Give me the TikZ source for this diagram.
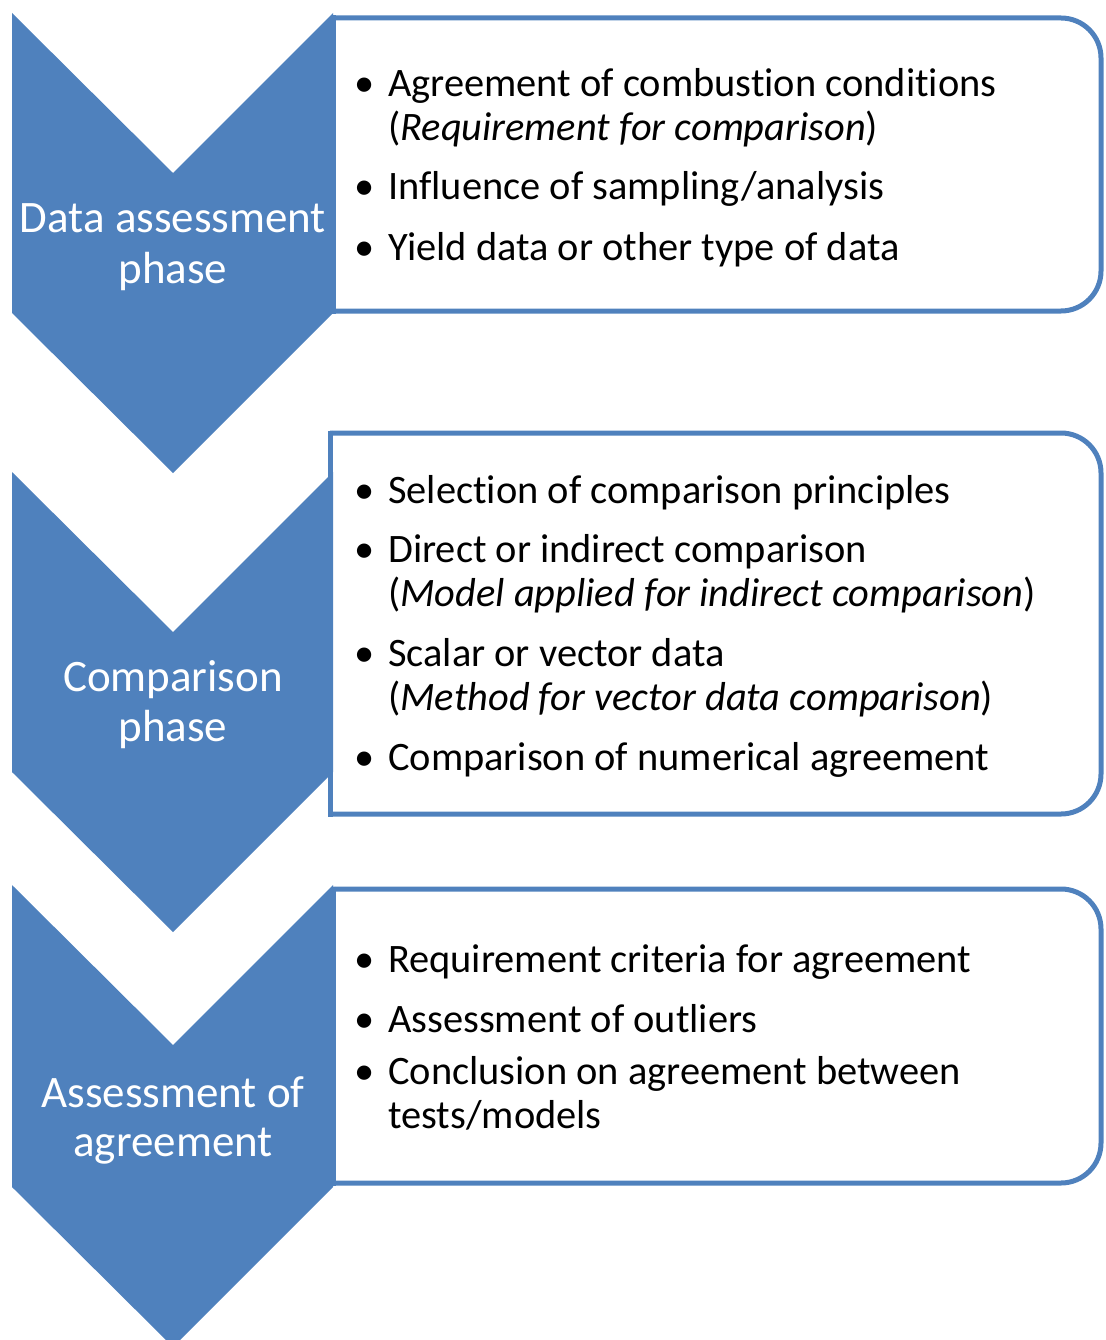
\documentclass[tikz,border=0pt]{standalone}
\usepackage{fontspec}
\setmainfont{Carlito}[Ligatures={NoCommon}]
\definecolor{phaseblue}{HTML}{4F81BD}
\tikzset{
  phase/.style={fill=phaseblue},
  phasetext/.style={text=white, font=\fontsize{45}{50}\selectfont, anchor=base, inner sep=0pt},
  itembox/.style={draw=phaseblue, line width=5pt, rounded corners=40pt},
  boxedge/.style={draw=phaseblue, line width=5pt},
  itemtext/.style={font=\fontsize{40.4}{44}\selectfont, anchor=base west, inner sep=0pt},
}
\newcommand{\bul}{\llap{\textbullet\hspace{14pt}}}

\begin{document}
\begin{tikzpicture}[x=1pt, y=-1pt]
\path[use as bounding box, clip] (0,0) rectangle (1105,1340);
% the three chevrons
\fill[phase] (12,13) -- (173,173) -- (333,13) -- (333,313) -- (173,473) -- (12,313) -- cycle;
\fill[phase] (12,472) -- (173,632) -- (333,472) -- (333,772) -- (173,932) -- (12,772) -- cycle;
\fill[phase] (12,885) -- (173,1045) -- (333,885) -- (333,1187) -- (173,1347) -- (12,1187) -- cycle;
% boxes: square on the left, rounded on the right
\draw[itembox] (333,18) -- (1101,18) -- (1101,311) -- (333,311);
\draw[boxedge] (333,15.5) -- (333,313.5);
\draw[itembox] (330,433) -- (1101,433) -- (1101,814) -- (330,814);
\draw[boxedge] (330,430.5) -- (330,816.5);
\draw[itembox] (333,889) -- (1101,889) -- (1101,1183) -- (333,1183);
\draw[boxedge] (333,886.5) -- (333,1185.5);
% phase names
\node[phasetext] (data1) at (173,233) {Data assessment};
\node[phasetext] (data2) at (173,283) {phase};
\node[phasetext] (comp1) at (173,691) {Comparison};
\node[phasetext] (comp2) at (173,741) {phase};
\node[phasetext] (agree1) at (173,1107) {Assessment of};
\node[phasetext] (agree2) at (173,1156) {agreement};
% data assessment items
\node[itemtext] (conditions) at (388,97) {\bul Agreement of combustion conditions};
\node[itemtext] (requirement) at (388,141) {(\textit{Requirement for comparison})};
\node[itemtext] (sampling) at (388,200) {\bul Influence of sampling/analysis};
\node[itemtext] (yield) at (388,260) {\bul Yield data or other type of data};
% comparison items
\node[itemtext] (principles) at (388,503) {\bul Selection of comparison principles};
\node[itemtext] (direct) at (388,562) {\bul Direct or indirect comparison};
\node[itemtext] (model) at (388,606) {(\textit{Model applied for indirect comparison})};
\node[itemtext] (scalar) at (388,666) {\bul Scalar or vector data};
\node[itemtext] (method) at (388,710) {(\textit{Method for vector data comparison})};
\node[itemtext] (numerical) at (388,770) {\bul Comparison of numerical agreement};
% agreement items
\node[itemtext] (criteria) at (388,972) {\bul Requirement criteria for agreement};
\node[itemtext] (outliers) at (388,1032) {\bul Assessment of outliers};
\node[itemtext] (conclusion) at (388,1084) {\bul Conclusion on agreement between};
\node[itemtext] (tests) at (388,1128) {tests/models};
\end{tikzpicture}
\end{document}
